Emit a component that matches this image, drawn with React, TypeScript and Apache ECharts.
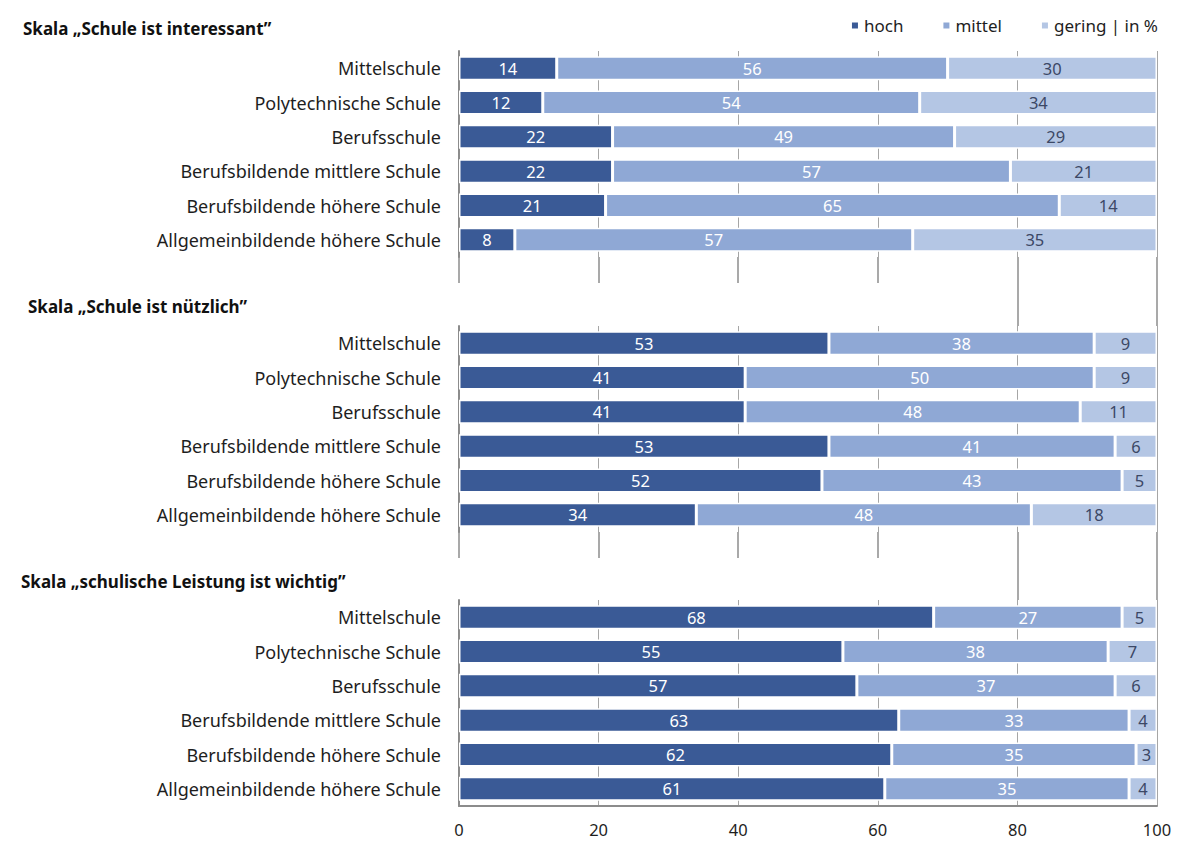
import React, { useEffect, useRef } from "react";
import * as echarts from "echarts";

// School types (same order in every panel, top to bottom)
const categories = [
  "Mittelschule",
  "Polytechnische Schule",
  "Berufsschule",
  "Berufsbildende mittlere Schule",
  "Berufsbildende höhere Schule",
  "Allgemeinbildende höhere Schule",
];

const panelTitles = [
  "Skala „Schule ist interessant”",
  "Skala „Schule ist nützlich”",
  "Skala „schulische Leistung ist wichtig”",
];

const seriesNames = ["hoch", "mittel", "gering"];

// Panel 1: Schule ist interessant
const interessantHoch = [14, 12, 22, 22, 21, 8];
const interessantMittel = [56, 54, 49, 57, 65, 57];
const interessantGering = [30, 34, 29, 21, 14, 35];

// Panel 2: Schule ist nützlich
const nuetzlichHoch = [53, 41, 41, 53, 52, 34];
const nuetzlichMittel = [38, 50, 48, 41, 43, 48];
const nuetzlichGering = [9, 9, 11, 6, 5, 18];

// Panel 3: schulische Leistung ist wichtig
const leistungHoch = [68, 55, 57, 63, 62, 61];
const leistungMittel = [27, 38, 37, 33, 35, 35];
const leistungGering = [5, 7, 6, 4, 3, 4];

const xTicks = [0, 20, 40, 60, 80, 100];

const panelData = [
  [interessantHoch, interessantMittel, interessantGering],
  [nuetzlichHoch, nuetzlichMittel, nuetzlichGering],
  [leistungHoch, leistungMittel, leistungGering],
];

const COLORS = ["#3a5a96", "#8fa8d5", "#b4c6e4"];
const LABEL_COLORS = ["#ffffff", "#ffffff", "#3c4866"];
const FONT = "'Noto Sans', 'Open Sans', sans-serif";

const GRID_LEFT = 459;
const GRID_RIGHT = 22;
const PANEL_TOPS = [51, 326, 600];
const PANEL_HEIGHT = 206;
const TITLE_POS = [
  { left: 18, top: 15 },
  { left: 23, top: 293 },
  { left: 16, top: 568 },
];

// connector grids between panels: [top, height, lines drawn]
const GAP_GRIDS: { top: number; height: number; all: boolean }[] = [
  { top: 257, height: 26, all: true },
  { top: 283, height: 43, all: false },
  { top: 532, height: 26, all: true },
  { top: 558, height: 42, all: false },
];

export default function App() {
  const ref = useRef<HTMLDivElement>(null);

  useEffect(() => {
    document.body.style.margin = "0";
    if (!ref.current) return;
    const chart = echarts.init(ref.current, null, { renderer: "svg" });

    const grids: any[] = [];
    const xAxes: any[] = [];
    const yAxes: any[] = [];
    const series: any[] = [];

    PANEL_TOPS.forEach((top, p) => {
      grids.push({ left: GRID_LEFT, right: GRID_RIGHT, top, height: PANEL_HEIGHT });
      const isLast = p === PANEL_TOPS.length - 1;
      xAxes.push({
        type: "value",
        gridIndex: p,
        min: 0,
        max: 100,
        interval: 20,
        axisLine: { show: isLast, lineStyle: { color: "#8c8c8c", width: 2 } },
        axisTick: { show: false },
        axisLabel: {
          show: isLast,
          fontFamily: FONT,
          fontSize: 16.5,
          color: "#1e1e1e",
          margin: 15,
        },
        splitLine: { show: true, lineStyle: { color: "#a6a6a6", width: 1 } },
      });
      yAxes.push({
        type: "category",
        gridIndex: p,
        inverse: true,
        data: categories,
        axisLine: { show: true, lineStyle: { color: "#8c8c8c", width: 2 } },
        axisTick: { show: false },
        axisLabel: {
          fontFamily: FONT,
          fontSize: 18,
          color: "#1e1e1e",
          margin: 18,
        },
      });
      panelData[p].forEach((vals, s) => {
        series.push({
          type: "bar",
          name: seriesNames[s],
          xAxisIndex: p,
          yAxisIndex: p,
          stack: "panel" + p,
          barWidth: 24,
          data: vals,
          itemStyle: { color: COLORS[s], borderColor: "#ffffff", borderWidth: 1.5 },
          label: {
            show: true,
            position: "inside",
            fontFamily: FONT,
            fontSize: 16.5,
            color: LABEL_COLORS[s],
          },
        });
      });
    });

    GAP_GRIDS.forEach((g, i) => {
      const idx = PANEL_TOPS.length + i;
      grids.push({ left: GRID_LEFT, right: GRID_RIGHT, top: g.top, height: g.height });
      xAxes.push({
        type: "value",
        gridIndex: idx,
        min: 0,
        max: 100,
        interval: 20,
        axisLine: { show: false },
        axisTick: { show: false },
        axisLabel: { show: false },
        splitLine: {
          show: true,
          lineStyle: {
            width: 1.5,
            color: g.all
              ? "#8c8c8c"
              : xTicks.map((t) => (t >= 80 ? "#8c8c8c" : "rgba(0,0,0,0)")),
          },
        },
      });
      yAxes.push({ type: "value", gridIndex: idx, show: false });
    });

    chart.setOption({
      animation: false,
      backgroundColor: "#ffffff",
      title: panelTitles.map((t, i) => ({
        text: t,
        left: TITLE_POS[i].left,
        top: TITLE_POS[i].top,
        textStyle: {
          fontFamily: FONT,
          fontSize: 17,
          fontWeight: "bold",
          color: "#111111",
        },
      })),
      legend: {
        data: seriesNames,
        right: 16,
        top: 12,
        icon: "rect",
        itemWidth: 8,
        itemHeight: 8,
        itemGap: 38,
        formatter: (name: string) => (name === "gering" ? "gering | in %" : name),
        textStyle: { fontFamily: FONT, fontSize: 17, color: "#1e1e1e" },
      },
      grid: grids,
      xAxis: xAxes,
      yAxis: yAxes,
      series,
    });

    return () => chart.dispose();
  }, []);

  return (
    <div
      ref={ref}
      style={{ position: "absolute", left: 0, top: 0, width: 1179, height: 843 }}
    />
  );
}
